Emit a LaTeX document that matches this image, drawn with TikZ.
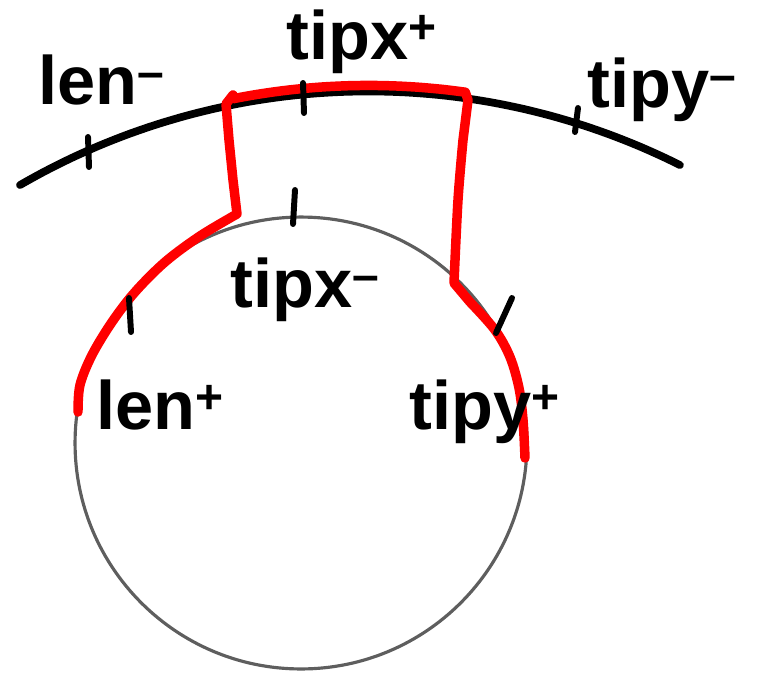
\documentclass[tikz,border=0pt]{standalone}
\usepackage{fontspec}
\setmainfont{Liberation Sans}
\usetikzlibrary{positioning}
\definecolor{ink}{HTML}{000000}
\definecolor{trace}{HTML}{FF0000}
\definecolor{rim}{HTML}{5E5E5E}

\begin{document}
\begin{tikzpicture}[x=0.02cm,y=-0.02cm,line cap=round,line join=round,
  lab/.style={font=\fontsize{39}{42}\selectfont\bfseries,inner sep=0pt},
  tk/.style={draw=ink,line width=3.4pt},
  outer/.style={draw=ink,line width=4.4pt},
  ring/.style={draw=rim,line width=1.8pt},
  path/.style={draw=trace,line width=5.4pt}]
  \useasboundingbox (0,0) rectangle (761,677);
  \coordinate (c) at (301,443);
  \draw[ring] (c) circle[radius=4.52cm];
  \draw[outer] plot[domain=120.07:63.4,samples=80]
    ({368.5+695.6*cos(\x)},{787-695.6*sin(\x)});
  \draw[path] plot[smooth,tension=.55] coordinates {(78,412) (80,385) (92,355)
      (112,322) (135,292) (165,262) (200,236) (237,214)}
    -- (233,180) -- (229,140) -- (226,104) -- (233,95)
    -- plot[domain=101.2:82.0,samples=30] ({368.5+695.6*cos(\x)},{781-695.6*sin(\x)})
    -- (468,100) -- plot[smooth,tension=.55] coordinates {(463,140) (458,200) (454,283)}
    -- plot[smooth,tension=.55] coordinates {(470,302) (495,330) (510,357)
      (519,388) (523,420) (525,458)};
  \foreach \a/\b in {88/137, 303/83}{
    \draw[tk] (\a,\b) -- ++(1,30);
  }
  \draw[tk] (578,108) -- (575,132);
  \draw[tk] (295,190) -- (293,224);
  \draw[tk] (129,298) -- (131,332);
  \draw[tk] (512,298) -- (496,333);
  \node[lab] (lenm) at (102,80) {len\textsuperscript{--}};
  \node[lab] (tipxp) at (362,42) {tipx\textsuperscript{+}};
  \node[lab] (tipym) at (662,90) {tipy\textsuperscript{--}};
  \node[lab] (tipxm) at (305,290) {tipx\textsuperscript{--}};
  \node[lab] (lenp) at (160,405) {len\textsuperscript{+}};
  \node[lab] (tipyp) at (485,412) {tipy\textsuperscript{+}};
\end{tikzpicture}
\end{document}
